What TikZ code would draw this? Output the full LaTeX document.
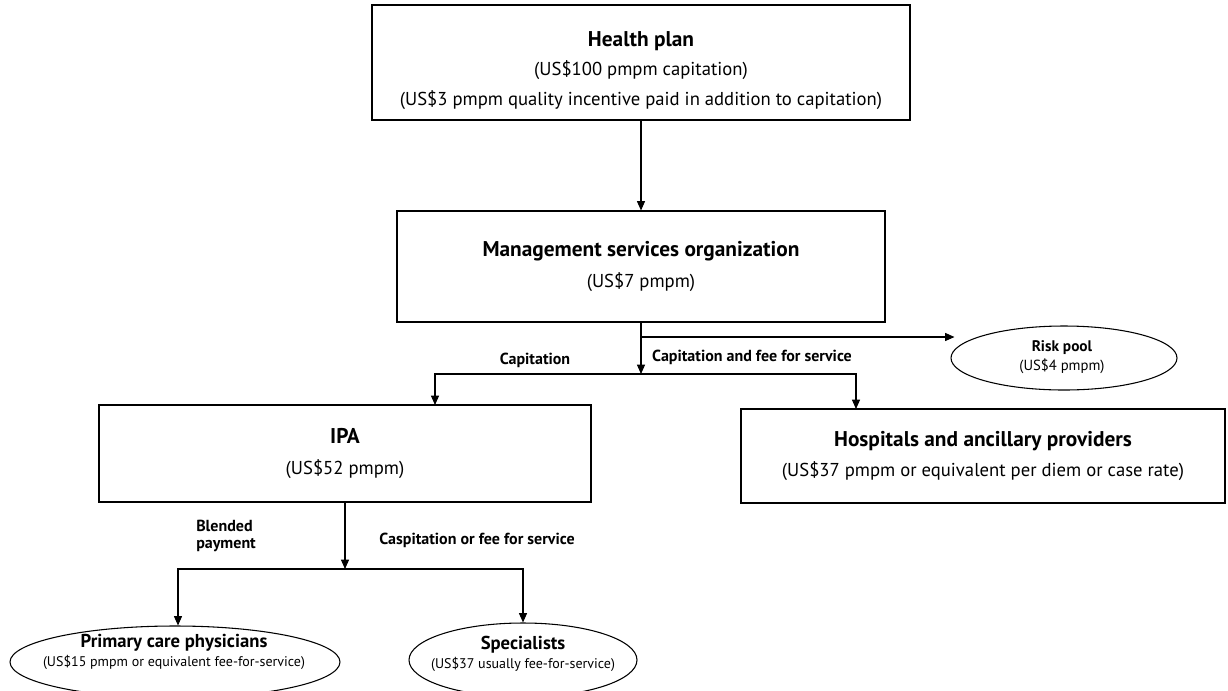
\documentclass[tikz,border=0pt]{standalone}
\usepackage{fontspec}
\setmainfont{PT Sans}
\usetikzlibrary{arrows.meta,shapes.geometric}

\newcommand{\boxtitle}[1]{{\fontsize{16}{19}\selectfont\bfseries #1}}
\newcommand{\pooltitle}[1]{{\fontsize{14}{17}\selectfont\bfseries #1}}

\begin{document}
\begin{tikzpicture}[x=0.75pt,y=-0.75pt,
    box/.style={draw,line width=0.8pt,inner sep=0pt,align=center,font=\fontsize{14}{17}\selectfont},
    pool/.style={draw,ellipse,line width=0.8pt,inner sep=0pt},
    pooltext/.style={align=center,inner sep=0pt,font=\fontsize{10.5}{14}\selectfont},
    arr/.style={line width=0.8pt,-{Triangle[length=7pt,width=6pt]}},
    lbl/.style={font=\fontsize{12}{12.5}\selectfont\bfseries,inner sep=0pt}]
        \useasboundingbox (0,0) rectangle (1228,690);
        \clip (0,0) rectangle (1228,690);
        % boxes
        \node[box,minimum width=403.5pt,minimum height=86.25pt] (hp) at (641,62.5)
            {\rule{0pt}{23.5pt}\boxtitle{Health plan}\\[5pt](US\$100 pmpm capitation)\\[5.5pt](US\$3 pmpm quality incentive paid in addition to capitation)};
        \node[box,minimum width=366pt,minimum height=83.25pt] (mso) at (641,266.5)
            {\boxtitle{Management services organization}\\[6pt](US\$7 pmpm)};
        \node[box,minimum width=369pt,minimum height=72.75pt] (ipa) at (345,453.5)
            {\boxtitle{IPA}\\[6pt](US\$52 pmpm)};
        \node[box,minimum width=363pt,minimum height=70.5pt] (hosp) at (983,456)
            {\boxtitle{Hospitals and ancillary providers}\\[6pt](US\$37 pmpm or equivalent per diem or case rate)};
        % ellipses
        \node[pool,minimum width=169.5pt,minimum height=48pt] (risk) at (1064,358) {};
        \node[pooltext,font=\fontsize{11}{14}\selectfont] (risktxt) at (1062,357)
            {{\fontsize{11.5}{14}\selectfont\bfseries Risk pool}\\(US\$4 pmpm)};
        \node[pool,minimum width=247.5pt,minimum height=54pt] (pcp) at (175,662) {};
        \node[pooltext] (pcptxt) at (174,652)
            {\pooltitle{Primary care physicians}\\(US\$15 pmpm or equivalent fee-for-service)};
        \node[pool,minimum width=171pt,minimum height=55.5pt] (spec) at (523,660) {};
        \node[pooltext] (spectxt) at (523,654)
            {\pooltitle{Specialists}\\(US\$37 usually fee-for-service)};
        % labels
        \node[lbl] (capl) at (535,360) {Capitation};
        \node[lbl] (capr) at (752,357) {Capitation and fee for service};
        \node[lbl,align=left,anchor=west] (blend) at (196,536) {Blended\\payment};
        \node[lbl] (casp) at (477,540) {Caspitation or fee for service};
        % connectors
        \coordinate (j1) at (641,374);
        \coordinate (rp) at (641,337);
        \coordinate (ipain) at (435,405);
        \coordinate (hospin) at (856,409);
        \coordinate (j2) at (345,569);
        \draw[arr] (hp.south) -- (mso.north);
        \draw[arr] (mso.south) -- (j1);
        \draw[arr] (rp) -- ([xshift=3pt]rp -| risk.west);
        \draw[arr] (j1) -| (ipain);
        \draw[arr] (j1) -| (hospin);
        \draw[arr] (ipa.south) -- (j2);
        \draw[arr] (j2) -| ([xshift=2.25pt]pcp.north);
        \draw[arr] (j2) -| (spec.north);
\end{tikzpicture}
\end{document}
